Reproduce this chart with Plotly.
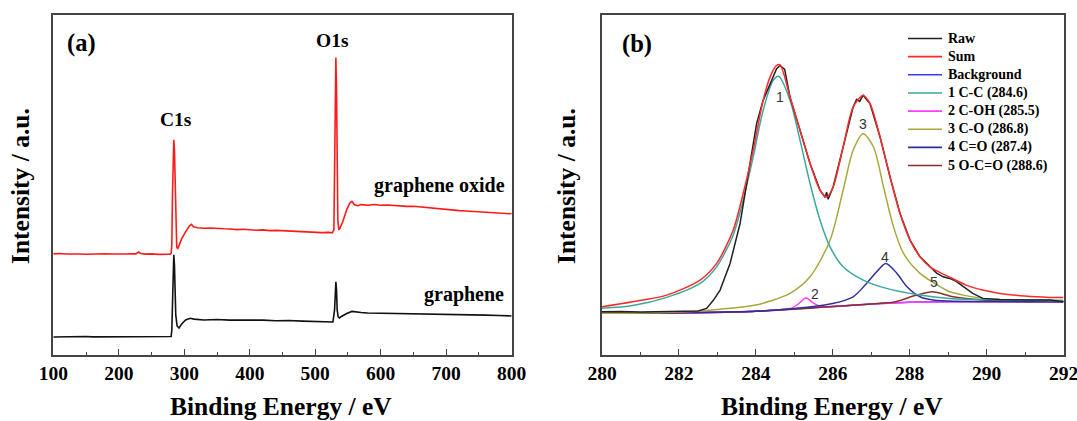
import plotly.graph_objects as go

# ---------------- Panel (a): survey spectra ----------------
go_energy = [100, 110, 120, 130, 140, 150, 160, 170, 180, 190, 200, 210, 220, 226, 230, 234, 240, 250, 260, 270, 278,
             280, 281, 282, 283, 284, 285, 286, 287, 288.5, 290, 292, 296, 302, 308, 311, 314, 320, 330, 340, 350, 360,
             370, 380, 390, 400, 410, 420, 430, 440, 450, 460, 470, 480, 490, 500, 510, 520, 526, 528.5, 529.5, 530.5,
             531.5, 532.5, 533.5, 534.5, 536, 538, 542, 548, 553, 556, 560, 565, 570, 580, 590, 600, 610, 620, 630,
             640, 650, 660, 670, 680, 690, 700, 710, 720, 730, 740, 750, 760, 770, 780, 790, 800]
go_intensity = [101, 101.3, 100.8, 101.2, 100.9, 100.6, 101, 100.7, 101.1, 100.8, 101.2, 100.9, 101.1, 101, 102.8, 101.3,
                100.7, 101, 100.5, 100.9, 100.6,
                101.5, 110, 160, 205, 215, 205, 165, 125, 108, 106, 110, 116, 123, 129, 130.5, 128, 127, 126.5, 126.8,
                126.2, 126, 125.8, 125.2, 125.5, 125, 124.6, 124.9, 124.2, 124.4, 124, 123.5, 123.8, 123.1, 122.9,
                122.6, 122.2, 122.4, 122, 125, 175, 265, 297, 265, 175, 135, 125, 127, 133, 145, 152, 153.5, 150, 149,
                150.2, 149.6, 150.3, 149.5, 149.8, 149.2, 148.9, 148.4, 148.6, 147.9, 147.4, 146.5, 145.9, 145.5, 145.1,
                144.2, 143.8, 143.4, 142.9, 142.6, 141.9, 141.6, 141.3, 141]

gr_energy = [100, 120, 140, 150, 160, 180, 200, 220, 240, 260, 278, 280, 281, 282, 283, 284, 285, 286, 287, 289, 292,
             296, 302, 309, 315, 330, 350, 370, 390, 400, 420, 440, 460, 480, 500, 515, 527, 529.5, 530.5, 531.5,
             532.5, 533.5, 535, 537, 540, 548, 556, 560, 570, 580, 600, 620, 640, 660, 680, 700, 720, 740, 760, 780,
             800]
gr_intensity = [18, 18.3, 17.9, 18.5, 18.1, 18.2, 18.3, 17.9, 18.1, 18, 18.2, 18.5, 25, 65, 92, 100, 90, 62, 40, 29,
                27, 31, 35, 36.7, 35.8, 35, 35.4, 34.8, 35.1, 34.5, 34.8, 34.2, 34.4, 33.8, 33.5, 33.7, 33, 45, 65, 73,
                65, 45, 38, 37, 38.5, 41.5, 43.5, 43, 42.4, 42, 41.8, 41.6, 41.5, 41.2, 41.3, 40.7, 40.5, 40.1, 39.8,
                39.5, 39]

# ---------------- Panel (b): C1s high-resolution fit ----------------
raw_be = [280.0, 280.5, 281.0, 281.5, 282.0, 282.5, 282.72, 282.9, 283.07, 283.2, 283.33, 283.59, 283.76, 284.02, 284.19,
          284.37, 284.54, 284.63, 284.75, 284.89, 285.15, 285.41, 285.67, 285.8, 285.84, 285.88, 286.01, 286.27,
          286.53, 286.62, 286.7, 286.79, 286.97, 287.23, 287.49, 287.75, 288.01, 288.27, 288.53, 288.7, 288.87, 289.04,
          289.2, 289.47, 289.64, 289.9, 290.34, 291.0, 291.64, 292.0]
raw_counts = [43.3, 43.6, 43.0, 43.5, 43.3, 44.0, 46.7, 55, 65, 78, 91.7, 131.7, 171.7, 231.7, 255, 271.7, 286.7, 290,
              286, 258, 225, 191.7, 165, 158, 163, 156, 168.3, 208.3, 248.3, 256, 254, 260, 251.7, 218.3, 178.3,
              141.7, 115, 98.3, 88.3, 82, 78.3, 76.7, 74, 66.7, 61.7, 56.7, 55.7, 55, 55, 53.3]

fit_be = [280.0, 280.8, 281.68, 282.55, 282.98, 283.41, 283.67, 283.93, 284.19, 284.37, 284.54, 284.63, 284.89, 285.15,
          285.41, 285.67, 285.84, 286.01, 286.27, 286.53, 286.79, 286.97, 287.23, 287.49, 287.75, 288.01, 288.27,
          288.53, 288.87, 289.04, 289.47, 289.9, 290.34, 291.0, 291.64, 292.0]
sum_counts = [48.3, 53.3, 60, 75, 91.7, 125, 161.7, 205, 255, 278.3, 290, 290.5, 258.3, 225, 191.7, 165, 158.3, 168.3,
              208.3, 248.3, 260, 251.7, 218.3, 178.3, 141.7, 115, 98.3, 88.3, 81, 78, 70, 65, 61.7, 59, 57.7, 57.5]

bg_be = [280, 281, 282, 283, 283.5, 284, 284.5, 285, 285.5, 286, 286.5, 287, 287.5, 288, 288.5, 289, 290, 292]
bg_counts = [41.7, 41.8, 42, 42.5, 43, 43.8, 45, 46.3, 47.5, 48.5, 49.8, 51, 52, 52.8, 53.2, 53.3, 53.3, 53.3]

cc_be = [280, 280.8, 281.68, 282.55, 282.98, 283.41, 283.67, 283.93, 284.19, 284.45, 284.6, 284.89, 285.15, 285.41,
         285.67, 285.93, 286.27, 286.79, 287.4, 288.27, 289.04, 290, 291, 292]
cc_counts = [46.7, 49.5, 57.7, 71.7, 88.3, 120, 155, 198.3, 245, 275, 279, 255, 215, 171.7, 135, 108.3, 88.3, 75, 66.7,
             60, 56.7, 55.5, 55, 54.5]

coh_be = [280, 282, 284, 284.6, 284.9, 285.1, 285.3, 285.5, 285.7, 286, 287, 288, 289, 292]
coh_counts = [41.7, 42, 43.8, 45.2, 46.5, 51, 57, 52, 48.3, 48.5, 51, 52.8, 53.3, 53.3]

co_be = [280, 281, 282, 282.55, 283, 283.41, 284.0, 284.37, 284.89, 285.41, 285.93, 286.27, 286.53, 286.79, 287.06,
         287.32, 287.58, 287.84, 288.27, 288.87, 289.04, 289.9, 291, 292]
co_counts = [41.7, 42, 43, 44, 45.5, 47, 50, 54, 61.7, 78.3, 115, 165, 205, 221.7, 208.3, 168.3, 128.3, 101.7, 81.7,
             66.7, 63.3, 56.7, 55, 54.5]

cdo_be = [280, 284, 285, 285.5, 286, 286.53, 286.88, 287.14, 287.38, 287.67, 287.93, 288.27, 288.6, 289, 290, 292]
cdo_counts = [41.7, 43.8, 46.5, 48.5, 51.5, 58.3, 71.7, 83.3, 91.7, 81.7, 68.3, 58.3, 55, 54, 53.5, 53.3]

ocdo_be = [280, 284, 286, 287, 287.6, 288.18, 288.6, 289.13, 289.9, 291, 292]
ocdo_counts = [41.7, 43.8, 48.5, 51.2, 53, 60, 63.3, 58.3, 55, 53.7, 53.5]

legend_names = ["Raw", "Sum", "Background", "1 C-C (284.6)", "2 C-OH (285.5)", "3 C-O (286.8)", "4 C=O (287.4)",
                "5 O-C=O (288.6)"]
peak_labels = ["1", "2", "3", "4", "5"]
peak_label_be = [284.64, 285.54, 286.79, 287.37, 288.62]
peak_label_y = [258, 61, 231, 98, 73]

left_ticks = [100, 200, 300, 400, 500, 600, 700, 800]
right_ticks = [280, 282, 284, 286, 288, 290, 292]

# ---------------- styling ----------------
W, H = 1077, 421
SERIF = "Liberation Serif"
colors = ["#222222", "#ff2a2a", "#3a3aff", "#3aa8a0", "#ff3cff", "#a8a83c", "#30309a", "#8b2e2e"]

fig = go.Figure()
fig.add_trace(go.Scatter(x=go_energy, y=go_intensity, mode="lines", line=dict(color="#ff1a1a", width=1.6),
                         xaxis="x", yaxis="y", showlegend=False))
fig.add_trace(go.Scatter(x=gr_energy, y=gr_intensity, mode="lines", line=dict(color="#111111", width=1.6),
                         xaxis="x", yaxis="y", showlegend=False))

series_b = [
    (raw_be, raw_counts), (fit_be, sum_counts), (bg_be, bg_counts), (cc_be, cc_counts), (coh_be, coh_counts),
    (co_be, co_counts), (cdo_be, cdo_counts), (ocdo_be, ocdo_counts)
]
draw_order = [2, 4, 7, 6, 5, 3, 0, 1]
for i in draw_order:
    xs, ys = series_b[i]
    shape = "linear" if i == 0 else "spline"
    fig.add_trace(go.Scatter(x=xs, y=ys, mode="lines", name=legend_names[i],
                             line=dict(color=colors[i], width=1.5, shape=shape, smoothing=0.8),
                             xaxis="x2", yaxis="y2", showlegend=False))

xdom_a = [53.3 / W, 511.7 / W]
xdom_b = [602 / W, 1063.5 / W]
ydom = [(H - 355) / H, (H - 14.5) / H]

tickfont = dict(family=SERIF, size=19.5, color="black", weight="bold")
axis_common = dict(showline=True, linecolor="#444444", linewidth=1.5, mirror=True, showgrid=False, zeroline=False,
                   automargin=False)
fig.update_layout(
    width=W, height=H, margin=dict(l=0, r=0, t=0, b=0, autoexpand=False),
    paper_bgcolor="white", plot_bgcolor="white",
    xaxis=dict(domain=xdom_a, range=[100, 800], tickvals=left_ticks, ticks="inside", ticklen=6, tickwidth=1.3,
               tickcolor="#444444", minor=dict(dtick=50, tick0=100, ticks="inside", ticklen=3, tickcolor="#444444"),
               tickfont=tickfont, ticklabeloverflow="allow", anchor="y", **axis_common),
    yaxis=dict(domain=ydom, range=[0, 340], showticklabels=False, ticks="", anchor="x", **axis_common),
    xaxis2=dict(domain=xdom_b, range=[280, 292], tickvals=right_ticks, ticks="inside", ticklen=6, tickwidth=1.3,
                tickcolor="#444444", minor=dict(dtick=1, tick0=280, ticks="inside", ticklen=3, tickcolor="#444444"),
                tickfont=tickfont, ticklabeloverflow="allow", anchor="y2", **axis_common),
    yaxis2=dict(domain=ydom, range=[0, 341], showticklabels=False, ticks="", anchor="x2", **axis_common),
    font=dict(family=SERIF, color="black"),
)

ann = []
def px_text(text, x, y, size, xanchor="center", yanchor="middle", angle=0, bold=True, family=SERIF, color="black"):
    t = "<b>%s</b>" % text if bold else text
    ann.append(dict(text=t, x=x / W, y=1 - y / H, xref="paper", yref="paper", showarrow=False, xanchor=xanchor,
                    yanchor=yanchor, textangle=angle, font=dict(family=family, size=size, color=color)))

# axis titles
px_text("Binding Energy / eV", 281, 406, 25.5)
px_text("Binding Energy / eV", 832, 406, 25.5)
px_text("Intensity / a.u.", 21, 186, 25.5, angle=-90)
px_text("Intensity / a.u.", 567, 186, 25.5, angle=-90)
# panel tags
px_text("(a)", 81, 43, 24.5)
px_text("(b)", 637, 44, 24.5)
# panel (a) labels
px_text("C1s", 176, 119, 19.5)
px_text("O1s", 332, 41, 19.5)
px_text("graphene oxide", 507, 185, 20, xanchor="right")
px_text("graphene", 506, 294, 20, xanchor="right")

# peak numbers on (b)
for lab, bx, by in zip(peak_labels, peak_label_be, peak_label_y):
    ann.append(dict(text=lab, x=bx, y=by, xref="x2", yref="y2", showarrow=False,
                    font=dict(family="Liberation Sans", size=14, color="#333333")))

# legend for (b)
shapes = []
for i, name in enumerate(legend_names):
    yy = 38.5 + 18.15 * i
    shapes.append(dict(type="line", xref="paper", yref="paper", x0=908 / W, x1=942 / W, y0=1 - yy / H, y1=1 - yy / H,
                       line=dict(color=colors[i], width=1.6)))
    px_text(name, 945.5, yy, 14, xanchor="left")

fig.update_layout(annotations=ann, shapes=shapes)
fig.write_html("out.html", config={"displayModeBar": False},
               post_script="document.body.style.margin='0';document.body.style.overflow='hidden';")
